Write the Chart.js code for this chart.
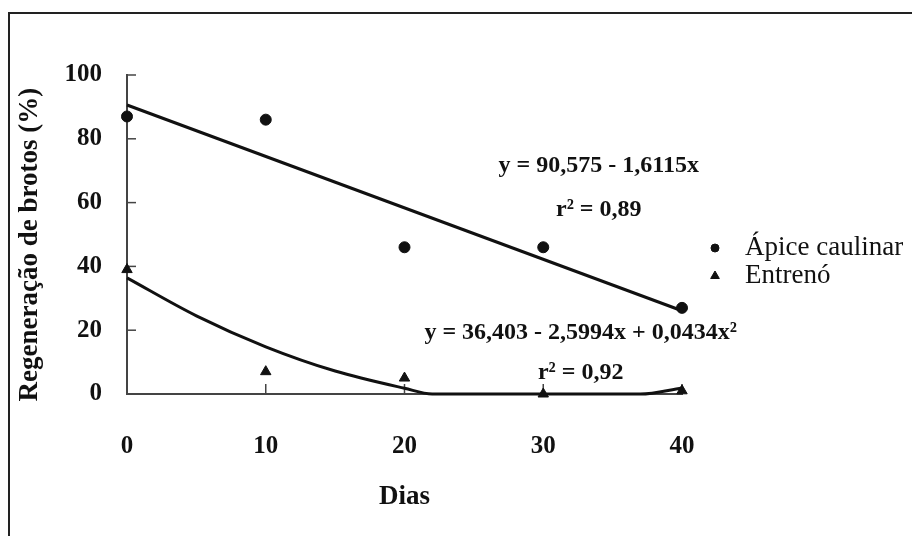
<!DOCTYPE html>
<html><head><meta charset="utf-8">
<script src="https://cdn.jsdelivr.net/npm/chart.js@4/dist/chart.umd.min.js"></script>
<style>html,body{margin:0;padding:0;background:#fff}#w{width:912px;height:536px}</style>
</head><body><div id="w"><canvas id="c" width="912" height="536"></canvas></div>
<script>
// ---- data ----
const dias = [0, 10, 20, 30, 40];
const apice = [87, 86, 46, 46, 27];
const entreno = [39, 7, 5, 0, 1];
const linX = [0, 40];
const linY = [90.6, 26.1];
const quadX = [0, 5, 10, 15, 20, 22, 26, 30, 34, 37, 40];
const quadY = [36.4, 24.5, 14.8, 7.2, 1.8, 0, 0, 0, 0, 0, 1.9];
const xTicks = [0, 10, 20, 30, 40];
const yTicks = [0, 20, 40, 60, 80, 100];
const seriesLabels = ['Ápice caulinar', 'Entrenó'];
const eqTexts = ['y = 90,575 - 1,6115x', 'r² = 0,89', 'y = 36,403 - 2,5994x + 0,0434x²', 'r² = 0,92'];
const eqX = [34.0, 34.0, 32.7, 32.7];
const eqY = [71.5, 57.7, 19.1, 6.6];

const pts = (xs, ys) => xs.map((v, i) => ({x: v, y: ys[i]}));
const serif = 'Liberation Serif';
const ink = '#111';
const axisColor = '#444';

const decor = {
  id: 'decor',
  beforeDraw(chart) {
    const ctx = chart.ctx;
    ctx.save();
    ctx.fillStyle = '#fff';
    ctx.fillRect(0, 0, chart.width, chart.height);
    ctx.strokeStyle = '#222';
    ctx.lineWidth = 2;
    ctx.strokeRect(9, 13, chart.width + 20, chart.height + 20);
    ctx.restore();
  },
  beforeDatasetsDraw(chart) {
    const {ctx, scales: {x, y}} = chart;
    ctx.save();
    ctx.strokeStyle = axisColor;
    ctx.lineWidth = 1.5;
    yTicks.forEach(v => {
      if (v === 0) return;
      const py = y.getPixelForValue(v);
      ctx.beginPath(); ctx.moveTo(x.left, py); ctx.lineTo(x.left + 9, py); ctx.stroke();
    });
    xTicks.forEach(v => {
      if (v === 0) return;
      const px = x.getPixelForValue(v);
      ctx.beginPath(); ctx.moveTo(px, y.bottom); ctx.lineTo(px, y.bottom - 10); ctx.stroke();
    });
    ctx.restore();
  },
  afterDraw(chart) {
    const {ctx, scales: {x, y}, chartArea} = chart;
    ctx.save();
    ctx.fillStyle = ink;
    ctx.textAlign = 'center';
    ctx.textBaseline = 'middle';
    ctx.font = 'bold 24px "' + serif + '"';
    eqTexts.forEach((t, i) => ctx.fillText(t, x.getPixelForValue(eqX[i]), y.getPixelForValue(eqY[i])));
    // legend
    const styles = ['circle', 'triangle'];
    const radii = [4, 5];
    ctx.textAlign = 'left';
    ctx.font = '27px "' + serif + '"';
    seriesLabels.forEach((lab, i) => {
      const ly = 248 + i * 28;
      ctx.fillStyle = ink; ctx.strokeStyle = ink;
      Chart.helpers.drawPoint(ctx, {pointStyle: styles[i], radius: radii[i], rotation: 0, borderWidth: 1}, chartArea.right + 33, ly);
      ctx.fillStyle = ink;
      ctx.fillText(lab, chartArea.right + 63, ly);
    });
    ctx.restore();
  }
};

new Chart(document.getElementById('c'), {
  type: 'scatter',
  data: {
    datasets: [
      {label: seriesLabels[0], data: pts(dias, apice), pointStyle: 'circle', pointRadius: 5.5,
       backgroundColor: ink, borderColor: ink, showLine: false, clip: false},
      {label: seriesLabels[1], data: pts(dias, entreno), pointStyle: 'triangle', pointRadius: 6,
       backgroundColor: ink, borderColor: ink, showLine: false, clip: false},
      {type: 'line', label: 'lin', data: pts(linX, linY), pointRadius: 0, borderColor: ink, borderWidth: 3, fill: false, clip: false},
      {type: 'line', label: 'quad', data: pts(quadX, quadY), pointRadius: 0, borderColor: ink, borderWidth: 3, fill: false,
       cubicInterpolationMode: 'monotone', clip: false}
    ]
  },
  options: {
    responsive: false,
    animation: false,
    events: [],
    layout: {padding: {left: 0, right: 230, top: 75, bottom: 0}},
    plugins: {legend: {display: false}, tooltip: {enabled: false}},
    scales: {
      x: {
        type: 'linear', min: 0, max: 40,
        afterBuildTicks: s => { s.ticks = xTicks.map(v => ({value: v})); },
        afterFit: s => { s.height = 142; },
        grid: {display: true, drawOnChartArea: false, drawTicks: false},
        border: {display: true, color: axisColor, width: 2},
        ticks: {padding: 38, color: ink, font: {family: serif, size: 25, weight: 'bold'}, maxRotation: 0},
        title: {display: true, text: 'Dias', color: ink, font: {family: serif, size: 27, weight: 'bold'}, padding: {top: 0, bottom: 23}}
      },
      y: {
        type: 'linear', min: 0, max: 100,
        afterBuildTicks: s => { s.ticks = yTicks.map(v => ({value: v})); },
        afterFit: s => { s.width = 127; },
        grid: {display: true, drawOnChartArea: false, drawTicks: false},
        border: {display: true, color: axisColor, width: 2},
        ticks: {padding: 25, color: ink, font: {family: serif, size: 25, weight: 'bold'}},
        title: {display: true, text: 'Regeneração de brotos (%)\u00a0\u00a0\u00a0', color: ink,
                font: {family: serif, size: 27, weight: 'bold'}, padding: {top: 14, bottom: 0}}
      }
    }
  },
  plugins: [decor]
});
</script>
</body></html>
